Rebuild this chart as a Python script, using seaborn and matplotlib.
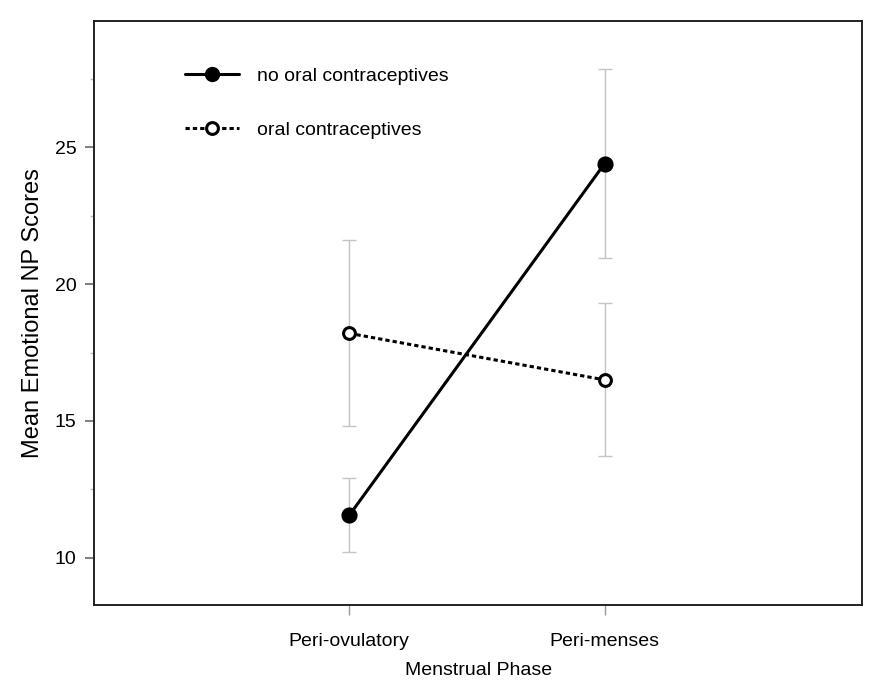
"""
    Mean emotional NP scores by menstrual phase, with and without
    oral contraceptives (means with error bars).
"""

import pandas as pd
import matplotlib.pyplot as plt
import seaborn as sns
from matplotlib.lines import Line2D
from matplotlib.ticker import MultipleLocator

# data
phases = ['Peri-ovulatory', 'Peri-menses']
groups = ['no oral contraceptives', 'oral contraceptives']
no_oc_mean = [11.55, 24.4]
no_oc_err = [1.35, 3.45]
oc_mean = [18.2, 16.5]
oc_err = [3.4, 2.8]

df = pd.DataFrame({
    'phase': phases * 2,
    'group': [groups[0]] * 2 + [groups[1]] * 2,
    'score': no_oc_mean + oc_mean,
})

sns.set_style('ticks')
plt.rcParams['font.family'] = ['Liberation Sans', 'DejaVu Sans']
plt.rcParams['text.color'] = 'black'
plt.rcParams['axes.labelcolor'] = 'black'
plt.rcParams['xtick.labelcolor'] = 'black'
plt.rcParams['ytick.labelcolor'] = 'black'

fig = plt.figure(figsize=(8.79, 6.88), dpi=100)
ax = fig.add_axes([0.107, 0.1206, 0.874, 0.849])

# error bars first, light grey, underneath the lines
for means, errs in [(no_oc_mean, no_oc_err), (oc_mean, oc_err)]:
    ax.errorbar(x=[0, 1], y=means, yerr=errs, fmt='none', ecolor='#c4c4c4',
                elinewidth=1.0, capsize=4.7, capthick=1.0, zorder=1)

sns.pointplot(data=df, x='phase', y='score', hue='group', order=phases,
              hue_order=groups, palette=['black', 'black'], markers=['o', 'o'],
              linestyles=['-', (0, (1.4, 1.0))], errorbar=None, dodge=False,
              markersize=10, linewidth=2.2, ax=ax)
if ax.get_legend() is not None:
    ax.get_legend().remove()

# open circles for the contraceptive group
for line in ax.lines:
    line.set_zorder(3)
    if line.get_linestyle() not in ('-', 'None'):
        line.set_markerfacecolor('white')
        line.set_markeredgewidth(2.2)
        line.set_markersize(8.5)

ax.set_xlim(-1.0, 2.01)
ax.set_ylim(8.27, 29.62)
ax.yaxis.set_major_locator(MultipleLocator(5))
ax.yaxis.set_minor_locator(MultipleLocator(2.5))

for side in ['left', 'right', 'top', 'bottom']:
    ax.spines[side].set_visible(True)
    ax.spines[side].set_color('#222222')
    ax.spines[side].set_linewidth(1.4)

ax.tick_params(axis='y', which='major', length=6.5, width=1.2, color='#666666',
               labelsize=14, pad=6)
ax.tick_params(axis='y', which='minor', length=3, width=1.0, color='#bbbbbb')
ax.tick_params(axis='x', which='major', length=7, width=1.0, color='#999999',
               labelsize=14, pad=13)

ax.set_xlabel('Menstrual Phase', fontsize=14, labelpad=9)
ax.set_ylabel('Mean Emotional NP Scores', fontsize=17, labelpad=8)

handles = [
    Line2D([], [], color='black', linestyle='-', linewidth=2.2, marker='o',
           markersize=10, markerfacecolor='black'),
    Line2D([], [], color='black', linestyle=(0, (1.4, 1.0)), linewidth=2.2,
           marker='o', markersize=8.5, markerfacecolor='white', markeredgewidth=2.2),
]
ax.legend(handles, groups, loc='upper left', bbox_to_anchor=(0.118, 0.92),
          frameon=False, fontsize=14, handlelength=2.8, handletextpad=0.9,
          labelspacing=1.85, borderpad=0, borderaxespad=0)

plt.savefig('out.png', dpi=100)
